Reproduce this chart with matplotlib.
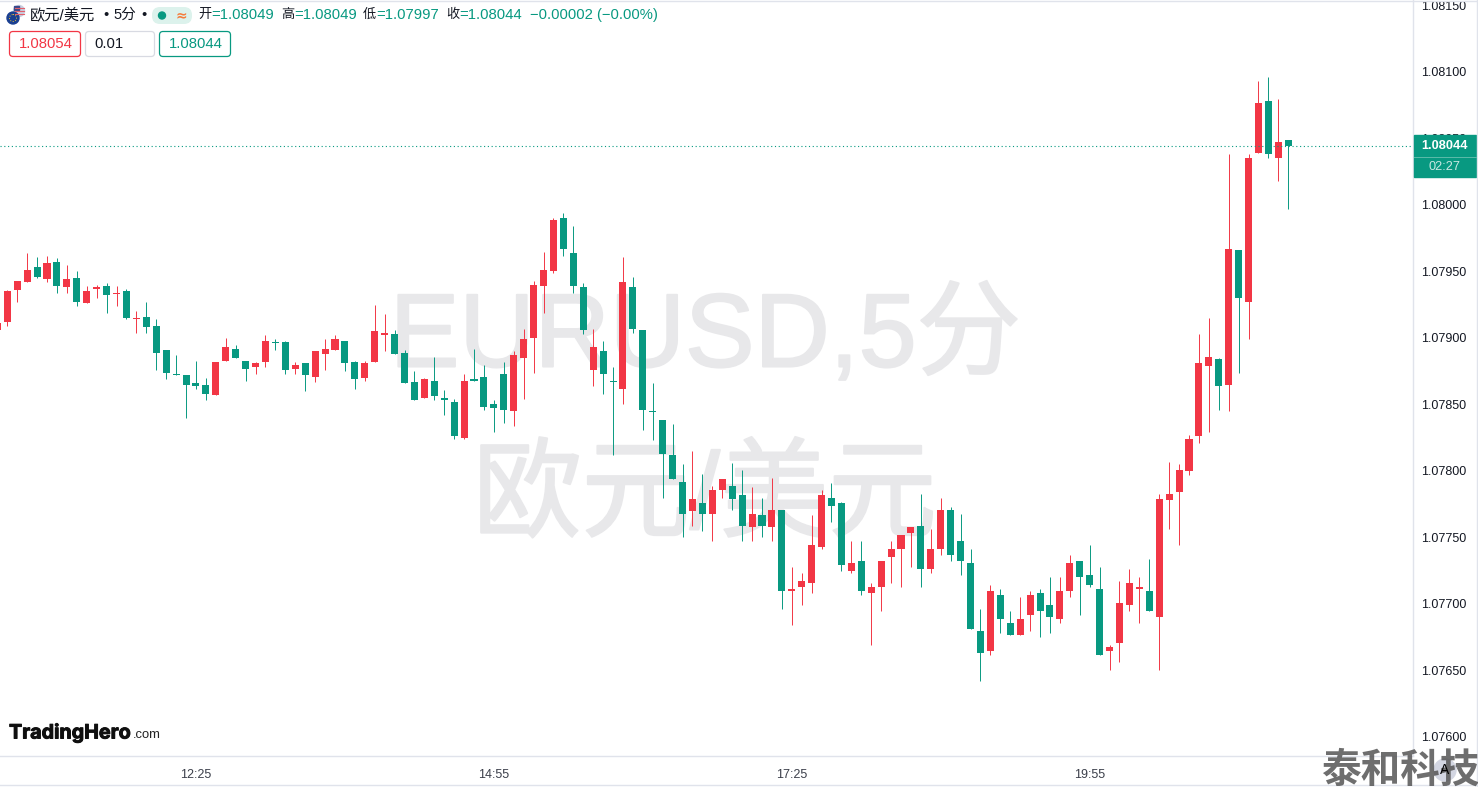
import numpy as np
import matplotlib
matplotlib.use('Agg')
import matplotlib.pyplot as plt
import matplotlib.patheffects as pe
from matplotlib.patches import Circle, FancyBboxPatch, Rectangle

plt.rcParams['font.family'] = ['Liberation Sans', 'Noto Sans CJK SC', 'DejaVu Sans']

# 5 minute bars, oldest first, prices
opens = [
    1.07906, 1.07912, 1.07936, 1.07942, 1.07953, 1.07944, 1.07957, 1.07938, 1.07945, 1.07926, 1.07937,
    1.07939, 1.07933, 1.07935, 1.07914, 1.07916, 1.07909, 1.07891, 1.07873, 1.07872, 1.07866, 1.07865,
    1.07857, 1.07883, 1.07892, 1.07883, 1.07878, 1.07882, 1.07897, 1.07897, 1.07877, 1.07881, 1.07871,
    1.07888, 1.07891, 1.07898, 1.07882, 1.07870, 1.07882, 1.07902, 1.07903, 1.07889, 1.07867, 1.07855,
    1.07868, 1.07855, 1.07852, 1.07825, 1.07869, 1.07871, 1.07850, 1.07873, 1.07845, 1.07885, 1.07900,
    1.07939, 1.07950, 1.07990, 1.07964, 1.07938, 1.07876, 1.07890, 1.07868, 1.07862, 1.07938, 1.07906,
    1.07845, 1.07838, 1.07812, 1.07792, 1.07770, 1.07776, 1.07768, 1.07786, 1.07789, 1.07782, 1.07758,
    1.07767, 1.07758, 1.07771, 1.07710, 1.07713, 1.07716, 1.07743, 1.07780, 1.07776, 1.07725, 1.07732,
    1.07708, 1.07713, 1.07735, 1.07741, 1.07753, 1.07759, 1.07726, 1.07741, 1.07771, 1.07747, 1.07731,
    1.07680, 1.07665, 1.07707, 1.07686, 1.07677, 1.07692, 1.07708, 1.07699, 1.07689, 1.07710, 1.07732,
    1.07722, 1.07711, 1.07665, 1.07671, 1.07699, 1.07711, 1.07710, 1.07690, 1.07778, 1.07784, 1.07800,
    1.07826, 1.07879, 1.07884, 1.07865, 1.07966, 1.07927, 1.08039, 1.08078, 1.08035, 1.08049,
]
highs = [
    1.07911, 1.07936, 1.07943, 1.07964, 1.07961, 1.07962, 1.07960, 1.07955, 1.07950, 1.07939, 1.07940,
    1.07941, 1.07939, 1.07937, 1.07920, 1.07927, 1.07914, 1.07891, 1.07887, 1.07872, 1.07883, 1.07870,
    1.07882, 1.07900, 1.07895, 1.07883, 1.07882, 1.07902, 1.07899, 1.07898, 1.07882, 1.07881, 1.07890,
    1.07899, 1.07902, 1.07898, 1.07883, 1.07883, 1.07925, 1.07918, 1.07906, 1.07891, 1.07875, 1.07870,
    1.07886, 1.07861, 1.07854, 1.07873, 1.07892, 1.07880, 1.07853, 1.07882, 1.07890, 1.07907, 1.07943,
    1.07965, 1.07990, 1.07994, 1.07984, 1.07941, 1.07907, 1.07898, 1.07878, 1.07961, 1.07946, 1.07906,
    1.07866, 1.07838, 1.07835, 1.07805, 1.07815, 1.07798, 1.07789, 1.07794, 1.07806, 1.07801, 1.07788,
    1.07780, 1.07795, 1.07771, 1.07728, 1.07723, 1.07767, 1.07786, 1.07791, 1.07777, 1.07747, 1.07747,
    1.07716, 1.07732, 1.07747, 1.07752, 1.07758, 1.07783, 1.07756, 1.07780, 1.07773, 1.07768, 1.07741,
    1.07696, 1.07714, 1.07711, 1.07695, 1.07705, 1.07710, 1.07711, 1.07720, 1.07720, 1.07737, 1.07732,
    1.07744, 1.07728, 1.07669, 1.07717, 1.07726, 1.07720, 1.07734, 1.07783, 1.07807, 1.07805, 1.07827,
    1.07903, 1.07915, 1.07885, 1.08038, 1.07966, 1.08038, 1.08093, 1.08096, 1.08080, 1.08049,
]
lows = [
    1.07906, 1.07909, 1.07927, 1.07942, 1.07945, 1.07942, 1.07934, 1.07934, 1.07924, 1.07926, 1.07930,
    1.07919, 1.07924, 1.07914, 1.07904, 1.07904, 1.07876, 1.07869, 1.07872, 1.07840, 1.07862, 1.07853,
    1.07857, 1.07883, 1.07885, 1.07868, 1.07873, 1.07878, 1.07891, 1.07873, 1.07873, 1.07860, 1.07867,
    1.07876, 1.07891, 1.07875, 1.07862, 1.07868, 1.07882, 1.07890, 1.07888, 1.07866, 1.07853, 1.07855,
    1.07853, 1.07842, 1.07824, 1.07824, 1.07868, 1.07846, 1.07829, 1.07836, 1.07834, 1.07854, 1.07874,
    1.07919, 1.07949, 1.07962, 1.07934, 1.07903, 1.07864, 1.07858, 1.07812, 1.07850, 1.07904, 1.07831,
    1.07823, 1.07780, 1.07794, 1.07750, 1.07759, 1.07755, 1.07747, 1.07780, 1.07771, 1.07747, 1.07747,
    1.07750, 1.07747, 1.07696, 1.07684, 1.07699, 1.07708, 1.07741, 1.07762, 1.07725, 1.07723, 1.07707,
    1.07669, 1.07695, 1.07716, 1.07713, 1.07728, 1.07713, 1.07723, 1.07737, 1.07732, 1.07722, 1.07681,
    1.07642, 1.07662, 1.07678, 1.07677, 1.07677, 1.07680, 1.07675, 1.07678, 1.07686, 1.07705, 1.07692,
    1.07713, 1.07662, 1.07650, 1.07656, 1.07695, 1.07686, 1.07695, 1.07650, 1.07756, 1.07744, 1.07797,
    1.07821, 1.07829, 1.07846, 1.07845, 1.07874, 1.07899, 1.08039, 1.08035, 1.08018, 1.07997,
]
closes = [
    1.07911, 1.07935, 1.07943, 1.07951, 1.07946, 1.07956, 1.07939, 1.07944, 1.07927, 1.07935, 1.07938,
    1.07932, 1.07934, 1.07915, 1.07915, 1.07908, 1.07889, 1.07874, 1.07872, 1.07865, 1.07864, 1.07858,
    1.07882, 1.07893, 1.07885, 1.07877, 1.07881, 1.07898, 1.07896, 1.07876, 1.07880, 1.07872, 1.07890,
    1.07892, 1.07899, 1.07881, 1.07869, 1.07881, 1.07905, 1.07904, 1.07888, 1.07866, 1.07853, 1.07869,
    1.07856, 1.07853, 1.07826, 1.07868, 1.07868, 1.07848, 1.07847, 1.07846, 1.07887, 1.07899, 1.07940,
    1.07951, 1.07989, 1.07967, 1.07939, 1.07906, 1.07893, 1.07873, 1.07867, 1.07942, 1.07907, 1.07846,
    1.07844, 1.07813, 1.07794, 1.07768, 1.07779, 1.07768, 1.07786, 1.07794, 1.07779, 1.07759, 1.07768,
    1.07759, 1.07771, 1.07710, 1.07711, 1.07717, 1.07744, 1.07782, 1.07774, 1.07729, 1.07731, 1.07710,
    1.07713, 1.07732, 1.07741, 1.07752, 1.07758, 1.07726, 1.07741, 1.07771, 1.07737, 1.07732, 1.07681,
    1.07663, 1.07710, 1.07689, 1.07677, 1.07689, 1.07707, 1.07695, 1.07690, 1.07710, 1.07731, 1.07720,
    1.07714, 1.07662, 1.07668, 1.07701, 1.07716, 1.07713, 1.07695, 1.07779, 1.07783, 1.07801, 1.07824,
    1.07881, 1.07886, 1.07864, 1.07967, 1.07930, 1.08035, 1.08077, 1.08038, 1.08047, 1.08044,
]
price_ticks = [1.076, 1.0765, 1.077, 1.0775, 1.078, 1.0785, 1.079, 1.0795, 1.08, 1.0805, 1.081, 1.0815]
time_bars = [20, 50, 80, 110]
time_labels = ['12:25', '14:55', '17:25', '19:55']

UP = '#f23645'
DOWN = '#089981'
GRID = '#e0e3eb'
INK = '#131722'
W, H = 1478, 787

fig = plt.figure(figsize=(W / 100, H / 100), dpi=100, facecolor='white')

# pixel space layers, one under the chart for the watermark, one over it for the widgets
bg = fig.add_axes([0, 0, 1, 1], zorder=-1)
ov = fig.add_axes([0, 0, 1, 1], zorder=5, facecolor='none')
for layer in (bg, ov):
    layer.set_xlim(0, W)
    layer.set_ylim(H, 0)
    layer.axis('off')

# chart pane runs from the left edge to the price scale, stops at the time scale
ax = fig.add_axes([0, 1 - 756 / H, 1413 / W, 756 / H])
ax.patch.set_alpha(0)
bars = np.arange(len(opens))
o, h, l, c = map(np.array, (opens, highs, lows, closes))
colors = np.where(c >= o, UP, DOWN)
ax.vlines(bars, l, h, colors=colors, linewidth=0.7, zorder=2)
ax.bar(bars, np.abs(c - o), bottom=np.minimum(o, c), width=0.71, color=colors, linewidth=0, zorder=3)
ax.axhline(closes[-1], color=DOWN, linewidth=0.8, linestyle=(0, (1, 2.4)), zorder=4)

ax.set_xlim(0.265, 142.56)
ax.set_ylim(1.075857, 1.081541)
ax.set_xticks(time_bars, time_labels)
ax.set_yticks(price_ticks, ['%.5f' % p for p in price_ticks])
ax.yaxis.tick_right()
ax.tick_params(axis='x', length=0, pad=9, labelsize=9, labelcolor='#3b3f4a')
ax.tick_params(axis='y', length=0, pad=5.5, labelsize=9, labelcolor=INK)
for side in ['top', 'left']:
    ax.spines[side].set_visible(False)
for side in ['bottom', 'right']:
    ax.spines[side].set_color(GRID)
    ax.spines[side].set_linewidth(1)

# big pane watermark
thick = [pe.withStroke(linewidth=1.5, foreground='#e8e8ea')]
bg.text(705, 339, 'EURUSD,5分', ha='center', va='center', fontsize=75, color='#e8e8ea', path_effects=thick)
bg.text(705, 500, '欧元/美元', ha='center', va='center', fontsize=78, color='#e8e8ea', path_effects=thick)

# frame lines of the widget
ov.plot([0, W], [785, 785], color=GRID, lw=1)
ov.plot([0, W], [0.5, 0.5], color=GRID, lw=1)
ov.plot([1477, 1477], [0, H], color=GRID, lw=1)

# header: symbol icon
ov.add_patch(Circle((19, 11), 5.5, color='#c9cfe0'))
for yy in [7.5, 10.5, 13.5]:
    ov.plot([15, 24], [yy, yy], color='#e2606b', lw=0.8)
ov.add_patch(Rectangle((14, 6), 5, 4, color='#3a4a8c'))
ov.add_patch(Circle((13, 18), 6, color='#1a3f91'))
ov.add_patch(Circle((13, 18), 3.5, fill=False, ec='#e8c43a', lw=0.7, ls=':'))

ov.text(30, 15, '欧元/美元', fontsize=11, color=INK, va='center')
ov.text(103, 15, '•', fontsize=10.5, color=INK, va='center')
ov.text(113, 15, '5分', fontsize=10.5, color=INK, va='center')
ov.text(141, 15, '•', fontsize=10.5, color=INK, va='center')
ov.add_patch(FancyBboxPatch((152, 7), 40, 17, boxstyle='round,pad=0,rounding_size=8', fc='#dcf2ec', ec='none'))
ov.add_patch(Circle((162, 15.5), 3.5, color=DOWN))
ov.text(181, 15.5, '≈', fontsize=10, color='#f57c3c', ha='center', va='center', family=['DejaVu Sans'], weight='bold')

for x, name, val in [(198, '开', '=1.08049'), (281, '高', '=1.08049'), (363, '低', '=1.07997'), (446, '收', '=1.08044')]:
    ov.text(x, 15, name, fontsize=9.5, color=INK, va='center')
    ov.text(x + 13, 15, val, fontsize=10.7, color=DOWN, va='center')
ov.text(530, 15, '−0.00002 (−0.00%)', fontsize=10.6, color=DOWN, va='center')

# order buttons
for x, w, ec, tc, s in [(9.5, 71, UP, UP, '1.08054'), (85.5, 69, '#d8dae2', INK, '0.01'), (159.5, 71, DOWN, DOWN, '1.08044')]:
    ov.add_patch(FancyBboxPatch((x, 31.5), w, 25, boxstyle='round,pad=0,rounding_size=3.5', fc='white', ec=ec, lw=0.9))
    ov.text(x + 9, 44.5, s, fontsize=10.7, color=tc, va='center')

# last price label on the scale
ov.add_patch(Rectangle((1414, 135), 62, 42, color=DOWN))
ov.plot([1414, 1476], [156.5, 156.5], color='#5cbcaa', lw=0.7)
ov.text(1444.5, 146, '1.08044', fontsize=9.2, color='white', ha='center', va='center', weight='bold')
ov.text(1444.5, 167, '02:27', fontsize=9.2, color='#c8e8e2', ha='center', va='center')

# logo
ov.text(9, 733, 'TradingHero', fontsize=14.2, color='#0f0f0f', va='center', weight='bold', family=['Inter', 'DejaVu Sans'],
        path_effects=[pe.withStroke(linewidth=0.7, foreground='#0f0f0f')])
ov.text(133, 735.5, '.com', fontsize=9.4, color='#222222', va='center')

# corner stamp and auto button
ov.add_patch(Circle((1445, 770), 11, color='#d3d6e2'))
ov.text(1400, 770.5, '泰和科技', fontsize=28.5, color='#555555', alpha=0.85, ha='center', va='center',
        weight='black', family=['Noto Sans CJK SC'], zorder=4)
ov.text(1445, 770, 'A', fontsize=10, color='#000000', ha='center', va='center', zorder=6)

fig.savefig('out.png', dpi=100)
